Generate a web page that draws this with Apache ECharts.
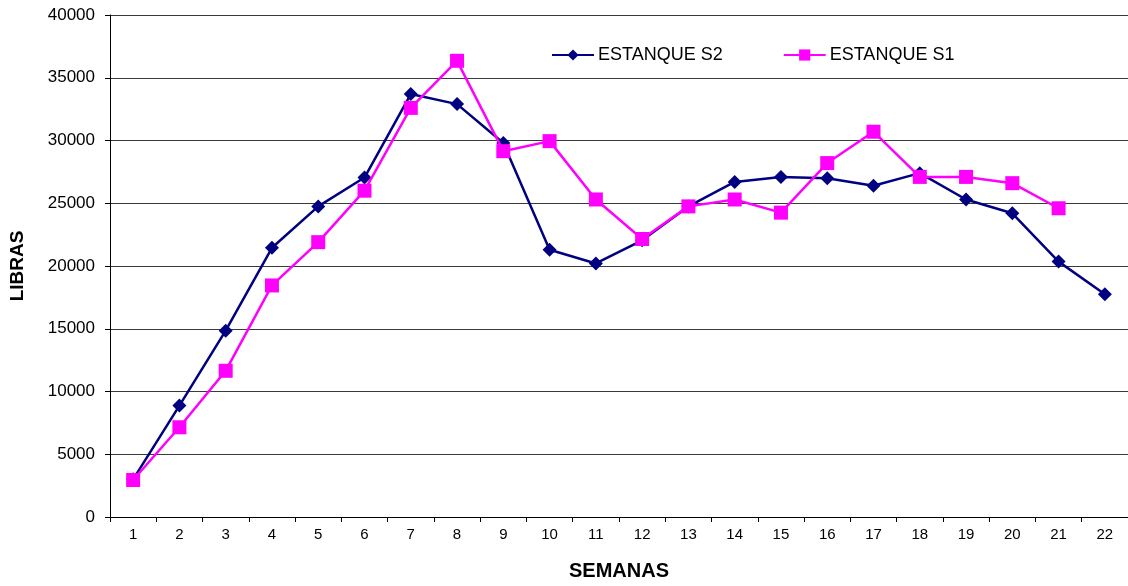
<!DOCTYPE html>
<html>
<head>
<meta charset="utf-8">
<script src="https://cdn.jsdelivr.net/npm/echarts@6/dist/echarts.min.js"></script>
<style>
    html, body { margin: 0; padding: 0; background: #fff; }
    #chart { width: 1128px; height: 586px; }
</style>
</head>
<body>
<div id="chart"></div>
<script>
// semanas 1..22
const semanas = ['1','2','3','4','5','6','7','8','9','10','11','12','13','14','15','16','17','18','19','20','21','22']
const estanqueS2 = [3000, 8880, 14850, 21450, 24750, 27050, 33700, 32900, 29800, 21300, 20200, 22050,
    24750, 26700, 27100, 27000, 26400, 27400, 25300, 24200, 20350, 17750]
const estanqueS1 = [2950, 7150, 11650, 18450, 21900, 26000, 32600, 36350, 29150, 29950, 25300, 22150,
    24750, 25300, 24250, 28200, 30700, 27100, 27100, 26600, 24600]

const fontFam = '"Liberation Sans", Arial, sans-serif'

let chart = echarts.init(document.getElementById('chart'), null, {renderer: 'canvas'})

let options = {
    animation: false,
    backgroundColor: '#fff',
    textStyle: {
        fontFamily: fontFam
    },
    // the original is cut off on the right, so the plot runs past the edge
    grid: {
        left: 107,
        right: -5,
        top: 15,
        bottom: 62
    },
    legend: {
        top: 41,
        left: 546,
        itemGap: 60,
        itemWidth: 42,
        itemHeight: 14,
        textStyle: {
            fontSize: 18,
            color: '#000',
            fontFamily: fontFam,
            padding: [0, 0, 0, -1]
        },
        data: ['ESTANQUE S2', 'ESTANQUE S1']
    },
    xAxis: {
        type: 'category',
        data: semanas,
        boundaryGap: true,
        name: 'SEMANAS',
        nameLocation: 'middle',
        nameGap: 44,
        nameTextStyle: {
            fontWeight: 'bold',
            fontSize: 20,
            color: '#000'
        },
        axisLine: { lineStyle: { color: '#000', width: 1 } },
        axisTick: { show: true, length: 5, lineStyle: { color: '#000' } },
        axisLabel: { color: '#000', fontSize: 15, margin: 10 }
    },
    yAxis: {
        type: 'value',
        min: 0,
        max: 40000,
        interval: 5000,
        name: 'LIBRAS',
        nameLocation: 'middle',
        nameRotate: 90,
        nameGap: 83,
        nameTextStyle: {
            fontWeight: 'bold',
            fontSize: 19,
            color: '#000'
        },
        axisLine: { show: true, lineStyle: { color: '#000', width: 1 } },
        axisTick: { show: true, length: 5, lineStyle: { color: '#000' } },
        axisLabel: {
            color: '#000',
            fontSize: 17,
            margin: 15,
            formatter: function(value) {
                return String(value)
            }
        },
        splitLine: { show: true, lineStyle: { color: '#3a3a3a', width: 1 } }
    },
    series: [
        {
            name: 'ESTANQUE S2',
            type: 'line',
            data: estanqueS2,
            symbol: 'diamond',
            symbolSize: 14,
            z: 2,
            itemStyle: { color: '#000080' },
            lineStyle: { color: '#000080', width: 2.5 }
        },
        {
            name: 'ESTANQUE S1',
            type: 'line',
            data: estanqueS1,
            symbol: 'rect',
            symbolSize: 14,
            z: 3,
            itemStyle: { color: '#FF00FF' },
            lineStyle: { color: '#FF00FF', width: 2.5 }
        }
    ]
}

chart.setOption(options)
</script>
</body>
</html>
